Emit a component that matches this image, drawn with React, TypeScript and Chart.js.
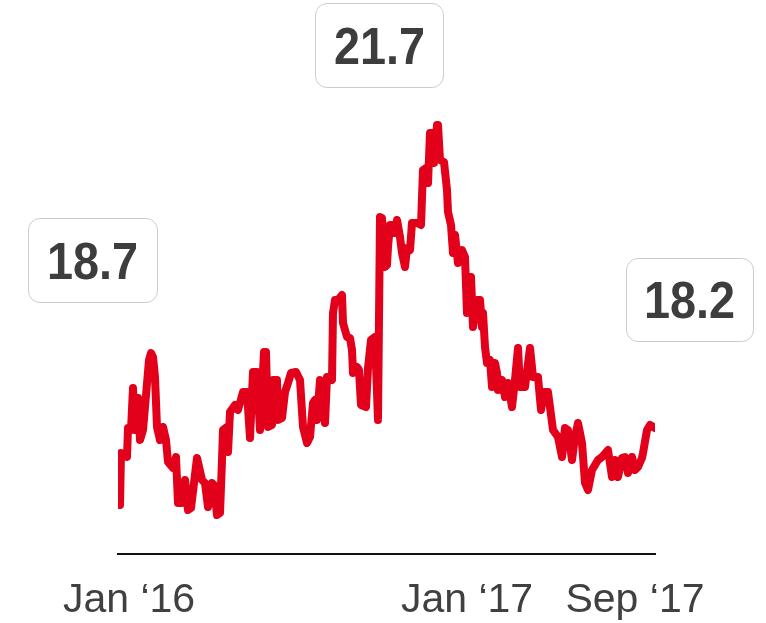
import React, { useEffect, useRef } from "react";
import { Chart, registerables } from "chart.js";

Chart.register(...registerables);

// Day index (from the start of the series) and index values
const dayIndex = [
  2, 3, 6, 9, 10, 13, 15, 17, 20, 22, 25, 27, 31, 33, 35, 37, 39, 42, 45, 48,
  50, 55, 58, 60, 64, 67, 70, 73, 79, 84, 87, 90, 94, 96, 99, 102, 104, 105, 109, 110,
  112, 115, 117, 120, 125, 129, 132, 135, 139, 142, 146, 148, 150, 154, 155, 159, 160, 164, 167, 170,
  173, 178, 182, 185, 189, 192, 195, 197, 199, 202, 205, 207, 209, 214, 215, 217, 220, 224, 225, 229,
  232, 234, 235, 239, 241, 243, 248, 250, 253, 257, 260, 262, 264, 267, 269, 270, 272, 275, 277, 279,
  282, 284, 287, 289, 292, 294, 299, 303, 305, 308, 310, 312, 314, 316, 319, 320, 322, 326, 329, 330,
  333, 335, 337, 340, 344, 347, 349, 350, 353, 355, 359, 362, 364, 365, 367, 369, 372, 374, 377, 379,
  380, 384, 387, 390, 394, 397, 400, 402, 407, 412, 415, 420, 423, 426, 430, 435, 440, 444, 447, 450,
  454, 457, 460, 464, 467, 470, 474, 477, 480, 484, 490, 494, 497, 500, 504, 507, 510, 514, 517, 520,
  524, 525, 529, 532, 537,
];

const values = [
  17.9, 18.42, 18.39, 18.38, 18.67, 18.65, 19.07, 18.65, 18.97, 18.55, 18.65, 18.88, 19.35, 19.42, 19.38, 19.18, 18.68, 18.55, 18.68, 18.55,
  18.33, 18.27, 18.38, 17.92, 17.92, 18.15, 17.85, 17.87, 18.37, 18.15, 18.12, 17.88, 18.12, 18.1, 17.8, 17.82, 18.35, 18.65, 18.68, 18.43,
  18.83, 18.87, 18.9, 18.85, 19.03, 19.03, 18.57, 19.23, 19.23, 18.65, 19.43, 19.43, 18.68, 18.7, 19.15, 19.15, 18.75, 18.77, 19.03, 19.12,
  19.22, 19.23, 19.15, 18.68, 18.52, 18.58, 18.92, 18.95, 18.75, 19.15, 19.08, 18.72, 19.18, 19.15, 19.82, 19.95, 19.95, 20.0, 19.72, 19.58,
  19.57, 19.45, 19.22, 19.28, 19.25, 18.9, 18.88, 19.27, 19.55, 19.58, 18.75, 20.78, 20.77, 20.28, 20.3, 20.48, 20.7, 20.7, 20.62, 20.75,
  20.58, 20.42, 20.28, 20.47, 20.45, 20.72, 20.72, 20.7, 21.25, 21.27, 21.12, 21.62, 21.62, 21.32, 21.7, 21.7, 21.35, 21.33, 21.05, 20.83,
  20.7, 20.42, 20.6, 20.32, 20.45, 20.38, 19.82, 20.18, 20.18, 19.68, 19.95, 19.95, 19.68, 19.82, 19.48, 19.32, 19.35, 19.08, 19.32, 19.22,
  19.05, 19.15, 18.98, 19.12, 18.88, 19.15, 19.47, 19.08, 19.08, 19.47, 19.18, 19.18, 18.85, 19.03, 19.03, 18.65, 18.58, 18.38, 18.67, 18.65,
  18.35, 18.58, 18.72, 18.52, 18.12, 18.05, 18.25, 18.3, 18.35, 18.38, 18.45, 18.18, 18.35, 18.18, 18.37, 18.38, 18.22, 18.38, 18.25, 18.28,
  18.37, 18.42, 18.65, 18.7, 18.67,
];

const tickDays = [11, 349, 517];
const tickLabels = ["Jan \u201816", "Jan \u201817", "Sep \u201817"];

const calloutTexts = ["18.7", "21.7", "18.2"];
const calloutBoxes = [
  { left: 28, top: 218, width: 130, height: 85 },
  { left: 315, top: 3, width: 129, height: 85 },
  { left: 626, top: 258, width: 128, height: 84 },
];

export default function App() {
  const canvasRef = useRef<HTMLCanvasElement | null>(null);

  useEffect(() => {
    document.body.style.margin = "0";
    const ctx = canvasRef.current;
    if (!ctx) return;
    const chart = new Chart(ctx, {
      type: "line",
      data: {
        datasets: [
          {
            data: dayIndex.map((d, i) => ({ x: d, y: values[i] })),
            borderColor: "#e2001a",
            borderWidth: 8,
            pointRadius: 0,
            tension: 0,
            fill: false,
            borderJoinStyle: "round",
            borderCapStyle: "round",
          },
        ],
      },
      options: {
        animation: false,
        responsive: false,
        maintainAspectRatio: false,
        layout: { padding: { left: 118, right: 111, top: 24, bottom: 0 } },
        plugins: { legend: { display: false }, tooltip: { enabled: false } },
        scales: {
          x: {
            type: "linear",
            min: 0,
            max: 537,
            grid: { display: false, drawTicks: false },
            border: { display: true, color: "#111", width: 2 },
            afterBuildTicks: (axis: any) => {
              axis.ticks = tickDays.map((v) => ({ value: v }));
            },
            afterFit: (axis: any) => {
              axis.height = 69;
            },
            ticks: {
              autoSkip: false,
              maxRotation: 0,
              padding: 22,
              color: "#404040",
              font: { family: "'Liberation Sans', Arial, sans-serif", size: 41 },
              callback: (val: any) => {
                const i = tickDays.indexOf(Number(val));
                return i >= 0 ? tickLabels[i] : "";
              },
            },
          },
          y: {
            display: false,
            min: 17.41,
            max: 22.71,
          },
        },
      },
    });
    return () => chart.destroy();
  }, []);

  return (
    <div style={{ position: "fixed", left: 0, top: 0, width: 766, height: 623, background: "#fff" }}>
      <canvas ref={canvasRef} width={766} height={623} style={{ display: "block" }} />
      {calloutTexts.map((t, i) => (
        <div
          key={i}
          style={{
            position: "absolute",
            left: calloutBoxes[i].left,
            top: calloutBoxes[i].top,
            width: calloutBoxes[i].width,
            height: calloutBoxes[i].height,
            boxSizing: "border-box",
            border: "1px solid #cccccc",
            borderRadius: 12,
            background: "#fff",
            display: "flex",
            alignItems: "center",
            justifyContent: "center",
            fontFamily: "'Liberation Sans', Arial, sans-serif",
            fontWeight: 700,
            fontSize: 52,
            color: "#3d3d3d",
          }}
        >
          <span style={{ display: "inline-block", transform: "scaleX(0.9)", lineHeight: 1 }}>{t}</span>
        </div>
      ))}
    </div>
  );
}
